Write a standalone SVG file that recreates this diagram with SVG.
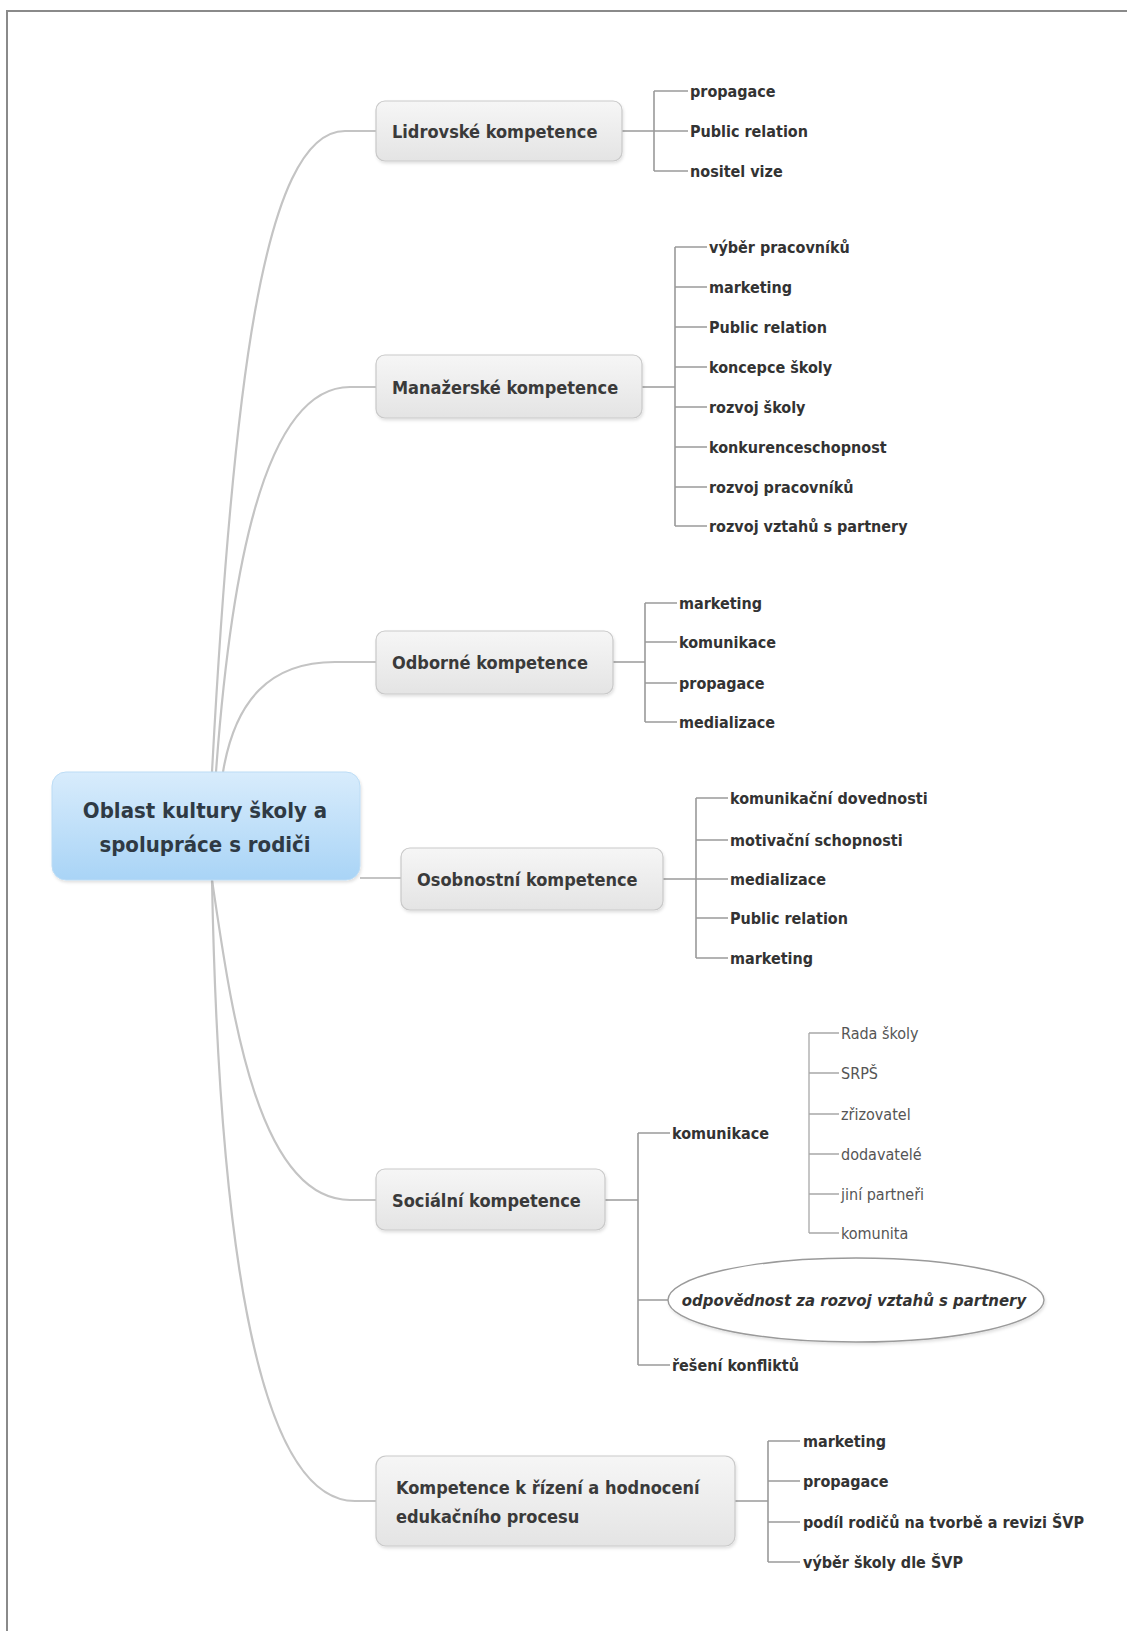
<svg xmlns="http://www.w3.org/2000/svg" width="1127" height="1631" viewBox="0 0 1127 1631">
<defs>
<linearGradient id="gTopic" x1="0" y1="0" x2="0" y2="1">
<stop offset="0" stop-color="#f6f6f6"/>
<stop offset="1" stop-color="#e4e4e4"/>
</linearGradient>
<linearGradient id="gRoot" x1="0" y1="0" x2="0" y2="1">
<stop offset="0" stop-color="#d8ecfc"/>
<stop offset="1" stop-color="#a9d4f6"/>
</linearGradient>
<filter id="sh" x="-10%" y="-10%" width="120%" height="130%">
<feDropShadow dx="1" dy="2" stdDeviation="1.5" flood-color="#000" flood-opacity="0.12"/>
</filter>
</defs>
<style>
.frame{fill:none;stroke:#8a8a8a;stroke-width:2}
.main{fill:none;stroke:#c4c4c4;stroke-width:2.2}
.br{fill:none;stroke:#9a9a9a;stroke-width:1.6}
.sub{fill:none;stroke:#a8a8a8;stroke-width:1.3}
.topic{fill:url(#gTopic);stroke:#c9c9c9;stroke-width:1.2;filter:url(#sh)}
.root{fill:url(#gRoot);stroke:#bcdcf5;stroke-width:1;filter:url(#sh)}
text{font-family:"DejaVu Sans Condensed","DejaVu Sans",sans-serif;font-stretch:condensed;fill:#333;dominant-baseline:central}
.tt{font-size:18px;font-weight:bold;fill:#3a3a3a}
.rt{font-size:22px;font-weight:bold;fill:#2f3a44;text-anchor:middle}
.ch{font-size:16px;font-weight:bold;fill:#333}
.sc{font-size:16px;font-weight:normal;fill:#555}
.it{font-size:16.6px;font-weight:bold;font-style:italic;fill:#333;text-anchor:middle}
</style>
<rect x="0" y="0" width="1127" height="1631" fill="#ffffff"/>
<path class="frame" d="M7,1631 V11 H1127"/>

<g id="connectors">
<path class="main" d="M212,772 C232,400 262,131 345,131 L376,131"/>
<path class="main" d="M216,772 C230,580 262,387 350,387 L376,387"/>
<path class="main" d="M223,772 C235,700 270,662 335,662 L376,662"/>
<path class="main" d="M360,878 L401,878"/>
<path class="main" d="M212,880 C230,1000 255,1200 350,1200 L376,1200"/>
<path class="main" d="M212,880 C218,1200 250,1501 355,1501 L376,1501"/>

<path class="br" d="M622,131 H654 M654,91 V171 M654,91 H688 M654,131 H688 M654,171 H688"/>
<path class="br" d="M642,387 H675 M675,247 V526 M675,247 H707 M675,287 H707 M675,327 H707 M675,367 H707 M675,407 H707 M675,447 H707 M675,487 H707 M675,526 H707"/>
<path class="br" d="M613,662 H645 M645,603 V722 M645,603 H677 M645,642 H677 M645,683 H677 M645,722 H677"/>
<path class="br" d="M663,879 H696 M696,798 V958 M696,798 H728 M696,840 H728 M696,879 H728 M696,918 H728 M696,958 H728"/>
<path class="br" d="M605,1200 H638 M638,1133 V1365 M638,1133 H670 M638,1300 H668 M638,1365 H670"/>
<path class="sub" d="M809,1033 V1233 M809,1033 H839 M809,1073 H839 M809,1114 H839 M809,1154 H839 M809,1194 H839 M809,1233 H839"/>
<path class="br" d="M735,1501 H768 M768,1441 V1562 M768,1441 H800 M768,1481 H800 M768,1522 H800 M768,1562 H800"/>
</g>

<g id="root">
<rect class="root" x="52" y="772" width="308" height="108" rx="14"/>
<text class="rt" x="205" y="810">Oblast kultury školy a</text>
<text class="rt" x="205" y="844">spolupráce s rodiči</text>
</g>

<g id="lidrovske">
<rect class="topic" x="376" y="101" width="246" height="60" rx="9"/>
<text class="tt" x="392" y="131">Lidrovské kompetence</text>
</g>
<g id="lidrovske-children">
<text class="ch" x="690" y="91">propagace</text>
<text class="ch" x="690" y="131">Public relation</text>
<text class="ch" x="690" y="171">nositel vize</text>
</g>

<g id="manazerske">
<rect class="topic" x="376" y="355" width="266" height="63" rx="9"/>
<text class="tt" x="392" y="387">Manažerské kompetence</text>
</g>
<g id="manazerske-children">
<text class="ch" x="709" y="247">výběr pracovníků</text>
<text class="ch" x="709" y="287">marketing</text>
<text class="ch" x="709" y="327">Public relation</text>
<text class="ch" x="709" y="367">koncepce školy</text>
<text class="ch" x="709" y="407">rozvoj školy</text>
<text class="ch" x="709" y="447">konkurenceschopnost</text>
<text class="ch" x="709" y="487">rozvoj pracovníků</text>
<text class="ch" x="709" y="526">rozvoj vztahů s partnery</text>
</g>

<g id="odborne">
<rect class="topic" x="376" y="631" width="237" height="63" rx="9"/>
<text class="tt" x="392" y="662">Odborné kompetence</text>
</g>
<g id="odborne-children">
<text class="ch" x="679" y="603">marketing</text>
<text class="ch" x="679" y="642">komunikace</text>
<text class="ch" x="679" y="683">propagace</text>
<text class="ch" x="679" y="722">medializace</text>
</g>

<g id="osobnostni">
<rect class="topic" x="401" y="848" width="262" height="62" rx="9"/>
<text class="tt" x="417" y="879">Osobnostní kompetence</text>
</g>
<g id="osobnostni-children">
<text class="ch" x="730" y="798">komunikační dovednosti</text>
<text class="ch" x="730" y="840">motivační schopnosti</text>
<text class="ch" x="730" y="879">medializace</text>
<text class="ch" x="730" y="918">Public relation</text>
<text class="ch" x="730" y="958">marketing</text>
</g>

<g id="socialni">
<rect class="topic" x="376" y="1169" width="229" height="61" rx="9"/>
<text class="tt" x="392" y="1200">Sociální kompetence</text>
</g>
<g id="socialni-children">
<text class="ch" x="672" y="1133">komunikace</text>
<text class="ch" x="672" y="1365">řešení konfliktů</text>
</g>
<g id="odpovednost">
<ellipse cx="856" cy="1300" rx="188" ry="42" fill="#ffffff" stroke="#9a9a9a" stroke-width="1.4" filter="url(#sh)"/>
<text class="it" x="854" y="1300">odpovědnost za rozvoj vztahů s partnery</text>
</g>
<g id="komunikace-children">
<text class="sc" x="841" y="1033">Rada školy</text>
<text class="sc" x="841" y="1073">SRPŠ</text>
<text class="sc" x="841" y="1114">zřizovatel</text>
<text class="sc" x="841" y="1154">dodavatelé</text>
<text class="sc" x="841" y="1194">jiní partneři</text>
<text class="sc" x="841" y="1233">komunita</text>
</g>

<g id="kompetence-rizeni">
<rect class="topic" x="376" y="1456" width="359" height="90" rx="10"/>
<text class="tt" x="396" y="1487">Kompetence k řízení a hodnocení</text>
<text class="tt" x="396" y="1516">edukačního procesu</text>
</g>
<g id="kompetence-rizeni-children">
<text class="ch" x="803" y="1441">marketing</text>
<text class="ch" x="803" y="1481">propagace</text>
<text class="ch" x="803" y="1522">podíl rodičů na tvorbě a revizi ŠVP</text>
<text class="ch" x="803" y="1562">výběr školy dle ŠVP</text>
</g>
</svg>
